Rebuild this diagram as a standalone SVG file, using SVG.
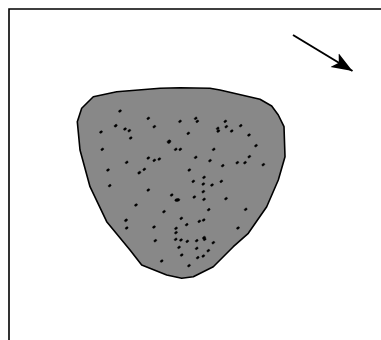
<svg xmlns="http://www.w3.org/2000/svg" width="381" height="340" viewBox="0 0 381 340">
<style>
.frame{fill:none;stroke:#000;stroke-width:1.6}
.blob{fill:#888;stroke:#000;stroke-width:1.6;stroke-linejoin:round}
.d{fill:#000;stroke:#000;stroke-width:0.4}
</style>
<defs>
<marker id="ah" markerUnits="userSpaceOnUse" markerWidth="24" markerHeight="20" refX="21" refY="8" orient="auto" viewBox="0 0 24 16">
<path d="M0,0 L21,8 L0,16 L5,8 Z" fill="#000"/>
</marker>
</defs>
<rect width="381" height="340" fill="#fff"/>
<g id="frame"><path class="frame" d="M9,341 V9 H382"/></g>
<g id="grain">
<path class="blob" d="M93.3,96.7 L116.7,91.7 L160,88.3 L180,87.7 L210,88.3 L220,90 L260,99.3 L271.7,106 L278.3,115 L284,126.7 L285,156.7 L278.3,180 L266.7,206.7 L248.3,233.3 L233.3,246.7 L213.3,266.7 L193.3,276.7 L181.7,278.3 L166.7,275 L141.7,265 L130,250 L106.7,221.7 L90,186.7 L80,150 L77.3,121.7 L81.7,108.3 Z"/>
<g class="d">
<ellipse cx="120" cy="111" rx="1.6" ry="1.1" transform="rotate(-35 120 111)"/>
<ellipse cx="148.3" cy="118.3" rx="1.6" ry="1.1" transform="rotate(-35 148.3 118.3)"/>
<ellipse cx="115.7" cy="125.7" rx="1.7" ry="1.2" transform="rotate(-35 115.7 125.7)"/>
<ellipse cx="125" cy="129" rx="1.6" ry="1.1" transform="rotate(-35 125 129)"/>
<ellipse cx="129.3" cy="130.7" rx="1.6" ry="1.1" transform="rotate(-35 129.3 130.7)"/>
<ellipse cx="101" cy="132" rx="1.6" ry="1.1" transform="rotate(-35 101 132)"/>
<ellipse cx="130.7" cy="138" rx="1.6" ry="1.1" transform="rotate(-35 130.7 138)"/>
<ellipse cx="154.3" cy="126.7" rx="1.6" ry="1.1" transform="rotate(-35 154.3 126.7)"/>
<ellipse cx="180" cy="121.3" rx="1.6" ry="1.1" transform="rotate(-35 180 121.3)"/>
<ellipse cx="195.7" cy="118.3" rx="1.6" ry="1.1" transform="rotate(-35 195.7 118.3)"/>
<ellipse cx="197.3" cy="121.3" rx="1.6" ry="1.1" transform="rotate(-35 197.3 121.3)"/>
<ellipse cx="188.3" cy="133.3" rx="1.6" ry="1.1" transform="rotate(-35 188.3 133.3)"/>
<ellipse cx="169" cy="141.7" rx="2" ry="1.6" transform="rotate(-35 169 141.7)"/>
<ellipse cx="175.7" cy="149.3" rx="1.6" ry="1.1" transform="rotate(-35 175.7 149.3)"/>
<ellipse cx="180.3" cy="149.3" rx="1.6" ry="1.1" transform="rotate(-35 180.3 149.3)"/>
<ellipse cx="102.3" cy="149.3" rx="1.6" ry="1.1" transform="rotate(-35 102.3 149.3)"/>
<ellipse cx="225.3" cy="121.3" rx="1.6" ry="1.1" transform="rotate(-35 225.3 121.3)"/>
<ellipse cx="240.7" cy="125.7" rx="1.6" ry="1.1" transform="rotate(-35 240.7 125.7)"/>
<ellipse cx="217.7" cy="128.3" rx="1.6" ry="1.1" transform="rotate(-35 217.7 128.3)"/>
<ellipse cx="218.3" cy="131" rx="1.7" ry="1.2" transform="rotate(-35 218.3 131)"/>
<ellipse cx="226.3" cy="126.7" rx="1.6" ry="1.1" transform="rotate(-35 226.3 126.7)"/>
<ellipse cx="231.7" cy="131" rx="1.6" ry="1.1" transform="rotate(-35 231.7 131)"/>
<ellipse cx="249" cy="135" rx="1.6" ry="1.1" transform="rotate(-35 249 135)"/>
<ellipse cx="256" cy="145.7" rx="1.6" ry="1.1" transform="rotate(-35 256 145.7)"/>
<ellipse cx="213.7" cy="149.3" rx="1.6" ry="1.1" transform="rotate(-35 213.7 149.3)"/>
<ellipse cx="249.3" cy="156.7" rx="1.6" ry="1.1" transform="rotate(-35 249.3 156.7)"/>
<ellipse cx="245" cy="162.7" rx="1.6" ry="1.1" transform="rotate(-35 245 162.7)"/>
<ellipse cx="237.3" cy="162.7" rx="1.6" ry="1.1" transform="rotate(-35 237.3 162.7)"/>
<ellipse cx="263.3" cy="164.7" rx="1.6" ry="1.1" transform="rotate(-35 263.3 164.7)"/>
<ellipse cx="222.7" cy="165.7" rx="1.6" ry="1.1" transform="rotate(-35 222.7 165.7)"/>
<ellipse cx="210" cy="160.7" rx="1.6" ry="1.1" transform="rotate(-35 210 160.7)"/>
<ellipse cx="195.7" cy="157.3" rx="1.6" ry="1.1" transform="rotate(-35 195.7 157.3)"/>
<ellipse cx="148.3" cy="158" rx="1.6" ry="1.1" transform="rotate(-35 148.3 158)"/>
<ellipse cx="154.3" cy="160.3" rx="1.6" ry="1.1" transform="rotate(-35 154.3 160.3)"/>
<ellipse cx="159.3" cy="159" rx="1.6" ry="1.1" transform="rotate(-35 159.3 159)"/>
<ellipse cx="126.7" cy="162.3" rx="1.6" ry="1.1" transform="rotate(-35 126.7 162.3)"/>
<ellipse cx="144.3" cy="169.3" rx="1.6" ry="1.1" transform="rotate(-35 144.3 169.3)"/>
<ellipse cx="139.3" cy="172.7" rx="1.7" ry="1.2" transform="rotate(-35 139.3 172.7)"/>
<ellipse cx="108" cy="170" rx="1.6" ry="1.1" transform="rotate(-35 108 170)"/>
<ellipse cx="189.3" cy="170" rx="1.6" ry="1.1" transform="rotate(-35 189.3 170)"/>
<ellipse cx="204" cy="177.3" rx="1.6" ry="1.1" transform="rotate(-35 204 177.3)"/>
<ellipse cx="193.3" cy="181.3" rx="1.6" ry="1.1" transform="rotate(-35 193.3 181.3)"/>
<ellipse cx="203.3" cy="184" rx="1.6" ry="1.1" transform="rotate(-35 203.3 184)"/>
<ellipse cx="212" cy="185" rx="1.6" ry="1.1" transform="rotate(-35 212 185)"/>
<ellipse cx="221.3" cy="181.3" rx="1.6" ry="1.1" transform="rotate(-35 221.3 181.3)"/>
<ellipse cx="109.7" cy="185.7" rx="1.6" ry="1.1" transform="rotate(-35 109.7 185.7)"/>
<ellipse cx="148.3" cy="190" rx="1.6" ry="1.1" transform="rotate(-35 148.3 190)"/>
<ellipse cx="203.3" cy="191.7" rx="1.6" ry="1.1" transform="rotate(-35 203.3 191.7)"/>
<ellipse cx="171.7" cy="195" rx="1.6" ry="1.1" transform="rotate(-35 171.7 195)"/>
<ellipse cx="177.3" cy="200" rx="2.6" ry="1.5" transform="rotate(-10 177.3 200)"/>
<ellipse cx="194.3" cy="197" rx="1.6" ry="1.1" transform="rotate(-35 194.3 197)"/>
<ellipse cx="204" cy="199.3" rx="1.6" ry="1.1" transform="rotate(-35 204 199.3)"/>
<ellipse cx="226" cy="198.7" rx="1.6" ry="1.1" transform="rotate(-35 226 198.7)"/>
<ellipse cx="136" cy="205" rx="1.6" ry="1.1" transform="rotate(-35 136 205)"/>
<ellipse cx="164" cy="211.7" rx="1.6" ry="1.1" transform="rotate(-35 164 211.7)"/>
<ellipse cx="208.7" cy="209.7" rx="1.6" ry="1.1" transform="rotate(-35 208.7 209.7)"/>
<ellipse cx="245.7" cy="209.3" rx="1.6" ry="1.1" transform="rotate(-35 245.7 209.3)"/>
<ellipse cx="181.3" cy="218.3" rx="1.6" ry="1.1" transform="rotate(-35 181.3 218.3)"/>
<ellipse cx="199.3" cy="221.3" rx="1.6" ry="1.1" transform="rotate(-35 199.3 221.3)"/>
<ellipse cx="203.7" cy="220" rx="1.6" ry="1.1" transform="rotate(-35 203.7 220)"/>
<ellipse cx="126" cy="220.3" rx="1.7" ry="1.2" transform="rotate(-35 126 220.3)"/>
<ellipse cx="126.7" cy="228" rx="1.6" ry="1.1" transform="rotate(-35 126.7 228)"/>
<ellipse cx="154" cy="227" rx="1.6" ry="1.1" transform="rotate(-35 154 227)"/>
<ellipse cx="186.7" cy="224.7" rx="1.6" ry="1.1" transform="rotate(-35 186.7 224.7)"/>
<ellipse cx="176" cy="228.3" rx="1.6" ry="1.1" transform="rotate(-35 176 228.3)"/>
<ellipse cx="176" cy="232.7" rx="1.6" ry="1.1" transform="rotate(-35 176 232.7)"/>
<ellipse cx="238" cy="228" rx="1.6" ry="1.1" transform="rotate(-35 238 228)"/>
<ellipse cx="175.7" cy="239.3" rx="1.6" ry="1.1" transform="rotate(-35 175.7 239.3)"/>
<ellipse cx="181" cy="240" rx="1.6" ry="1.1" transform="rotate(-35 181 240)"/>
<ellipse cx="187.3" cy="241.3" rx="1.6" ry="1.1" transform="rotate(-35 187.3 241.3)"/>
<ellipse cx="196.7" cy="240.7" rx="1.6" ry="1.1" transform="rotate(-35 196.7 240.7)"/>
<ellipse cx="204" cy="237.7" rx="1.7" ry="1.2" transform="rotate(-35 204 237.7)"/>
<ellipse cx="204.7" cy="239.3" rx="1.6" ry="1.1" transform="rotate(-35 204.7 239.3)"/>
<ellipse cx="213.3" cy="242.7" rx="1.6" ry="1.1" transform="rotate(-35 213.3 242.7)"/>
<ellipse cx="155.3" cy="240.7" rx="1.6" ry="1.1" transform="rotate(-35 155.3 240.7)"/>
<ellipse cx="179" cy="247.3" rx="1.6" ry="1.1" transform="rotate(-35 179 247.3)"/>
<ellipse cx="196.7" cy="248.3" rx="1.6" ry="1.1" transform="rotate(-35 196.7 248.3)"/>
<ellipse cx="208.3" cy="250.7" rx="1.6" ry="1.1" transform="rotate(-35 208.3 250.7)"/>
<ellipse cx="181.7" cy="255" rx="1.6" ry="1.1" transform="rotate(-35 181.7 255)"/>
<ellipse cx="197.7" cy="257.7" rx="1.6" ry="1.1" transform="rotate(-35 197.7 257.7)"/>
<ellipse cx="203.3" cy="256" rx="1.6" ry="1.1" transform="rotate(-35 203.3 256)"/>
<ellipse cx="161.7" cy="261" rx="1.6" ry="1.1" transform="rotate(-35 161.7 261)"/>
<ellipse cx="189" cy="265.7" rx="1.6" ry="1.1" transform="rotate(-35 189 265.7)"/>
</g>
</g>
<g id="connectors">
<line x1="293" y1="35" x2="352.5" y2="71" stroke="#000" stroke-width="2" marker-end="url(#ah)"/>
</g>
</svg>
